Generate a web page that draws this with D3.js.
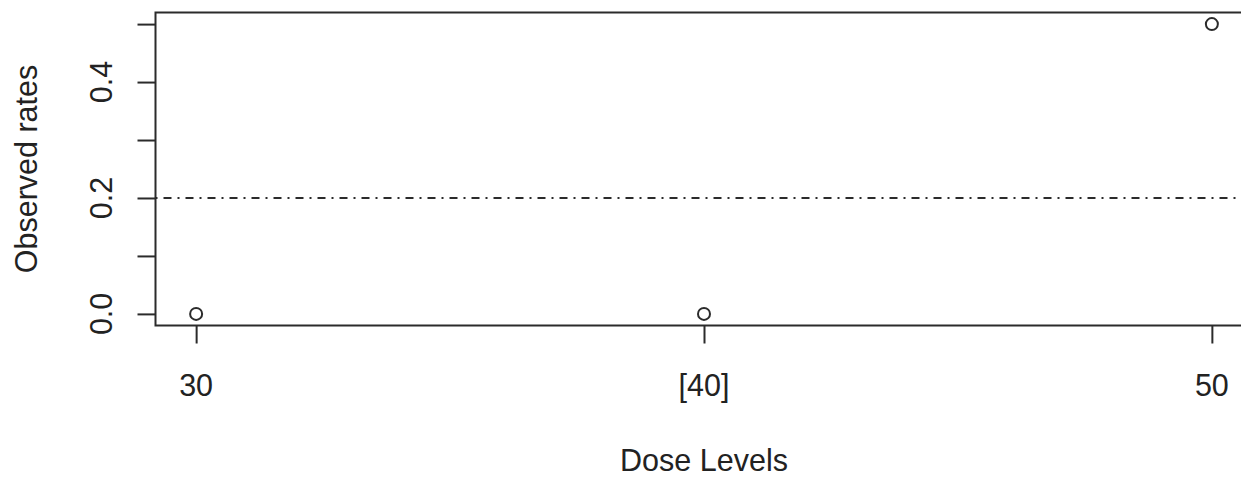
<!DOCTYPE html>
<html>
<head>
<meta charset="utf-8">
<script src="https://cdn.jsdelivr.net/npm/d3@7"></script>
<style>
  html, body { margin: 0; padding: 0; background: #fff; }
  svg { display: block; }
  text { font-family: Arial, "Liberation Sans", sans-serif; fill: #222; }
</style>
</head>
<body>
<svg id="chart" width="1241" height="481"></svg>
<script>
// Dose levels and the observed toxicity rate at each
const doses = [30, 40, 50];
const doseLabels = ["30", "[40]", "50"];
const observedRates = [0, 0, 0.5];
const targetRate = 0.2;
const yTicks = [0, 0.1, 0.2, 0.3, 0.4, 0.5];
const yTickLabels = ["0.0", "", "0.2", "", "0.4", ""];

const ink = "#2b2b2b";
const fontSize = 30.5;

const svg = d3.select("#chart");

// Plot region with the usual 4% padding around the data range
const x = d3.scaleLinear().domain([29.2, 50.8]).range([155.5, 1252.5]);
const y = d3.scaleLinear().domain([-0.02, 0.52]).range([325.5, 12.5]);

// Reference line at the target rate (dot-dash)
svg.append("line")
  .attr("x1", x(29.2)).attr("x2", x(50.8))
  .attr("y1", y(targetRate)).attr("y2", y(targetRate))
  .attr("stroke", ink).attr("stroke-width", 2)
  .attr("stroke-dasharray", "2,6,8,6");

// Plot frame
svg.append("rect")
  .attr("x", x(29.2)).attr("y", y(0.52))
  .attr("width", x(50.8) - x(29.2)).attr("height", y(-0.02) - y(0.52))
  .attr("fill", "none").attr("stroke", ink).attr("stroke-width", 2);

// Left axis: ticks only, labels placed separately (rotated)
const yAxis = svg.append("g")
  .attr("transform", `translate(${x(29.2)},0)`)
  .call(d3.axisLeft(y).tickValues(yTicks).tickSize(18).tickSizeOuter(0).tickFormat(""));
yAxis.select(".domain").remove();
yAxis.selectAll(".tick line").attr("stroke", ink).attr("stroke-width", 2);

svg.append("g").selectAll("text")
  .data(yTicks.filter((d, i) => yTickLabels[i] !== ""))
  .join("text")
  .attr("transform", d => `translate(112,${y(d)}) rotate(-90)`)
  .attr("text-anchor", "middle")
  .attr("font-size", fontSize)
  .text(d => yTickLabels[yTicks.indexOf(d)]);

// Bottom axis
const xAxis = svg.append("g")
  .attr("transform", `translate(0,${y(-0.02)})`)
  .call(d3.axisBottom(x).tickValues(doses).tickSize(18).tickSizeOuter(0).tickFormat(""));
xAxis.select(".domain").remove();
xAxis.selectAll(".tick line").attr("stroke", ink).attr("stroke-width", 2);

svg.append("g").selectAll("text")
  .data(doses)
  .join("text")
  .attr("x", d => x(d))
  .attr("y", 396)
  .attr("text-anchor", "middle")
  .attr("font-size", fontSize)
  .text((d, i) => doseLabels[i]);

// Observed rates as open circles
svg.append("g").selectAll("circle")
  .data(doses.map((d, i) => ({ dose: d, rate: observedRates[i] })))
  .join("circle")
  .attr("cx", d => x(d.dose))
  .attr("cy", d => y(d.rate))
  .attr("r", 6)
  .attr("fill", "none")
  .attr("stroke", ink)
  .attr("stroke-width", 2);

// Axis titles
svg.append("text")
  .attr("x", (x(29.2) + x(50.8)) / 2)
  .attr("y", 471)
  .attr("text-anchor", "middle")
  .attr("font-size", fontSize)
  .text("Dose Levels");

svg.append("text")
  .attr("transform", `translate(37,${(y(0.52) + y(-0.02)) / 2}) rotate(-90)`)
  .attr("text-anchor", "middle")
  .attr("font-size", fontSize)
  .text("Observed rates");
</script>
</body>
</html>
